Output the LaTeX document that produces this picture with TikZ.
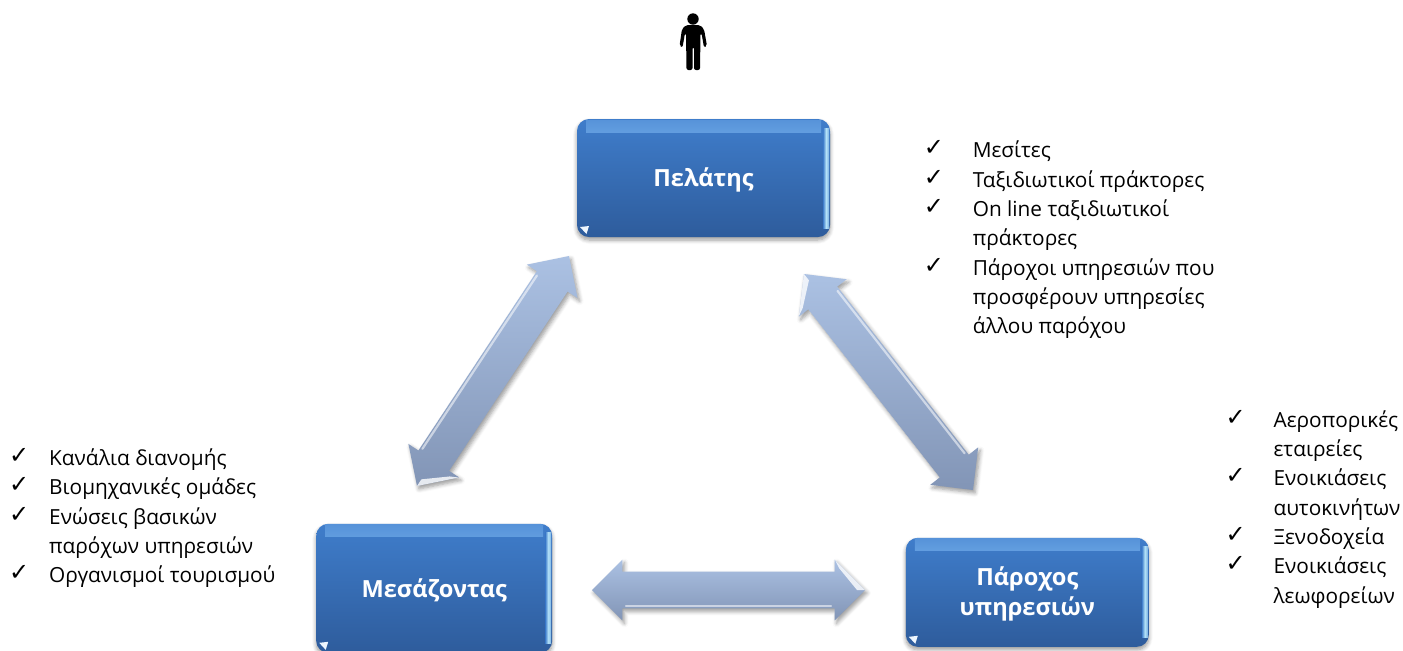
\documentclass[tikz,border=0pt]{standalone}
\usepackage{fontspec}
\setmainfont{Open Sans}
\newfontfamily\checkfont{DejaVu Sans}
\usetikzlibrary{positioning,calc,shapes.arrows,shadows.blur}

\definecolor{boxtop}{HTML}{3F7DCB}
\definecolor{boxbot}{HTML}{2E5C9C}
\definecolor{boxshine}{HTML}{8CC4F8}
\definecolor{boxedge}{HTML}{B4E2F8}
\definecolor{arrowtop}{HTML}{ABC1E3}
\definecolor{arrowbot}{HTML}{8295B6}

\newlength{\chkgap}
\newcommand{\chk}{\makebox[\chkgap][l]{\smash{\raisebox{1pt}{\checkfont\fontsize{12}{12}\selectfont ✓}}}}
\newcommand{\nochk}{\hspace*{\chkgap}}

\tikzset{
  boxnode/.style={rounded corners=6pt, top color=boxtop, bottom color=boxbot, text=white,
    font=\bfseries\fontsize{11.8}{15}\selectfont, align=center, inner sep=0pt,
    minimum width=#1, blur shadow={shadow xshift=0pt, shadow yshift=-1.5pt, shadow blur steps=6, shadow blur radius=2pt},
    path picture={
      \shade[sharp corners, top color=boxtop!70!boxshine, bottom color=boxtop, middle color=boxshine]
        ([shift={(9,1)}]path picture bounding box.north west) rectangle
        ([shift={(-9,13)}]path picture bounding box.north east);
      \shade[sharp corners, left color=boxtop, right color=boxtop!50!boxedge, middle color=boxedge]
        ([shift={(-7,9)}]path picture bounding box.north east) rectangle
        ([shift={(-1,-9)}]path picture bounding box.south east);
      \fill[sharp corners, white!85!boxshine] ([shift={(3,-10)}]path picture bounding box.south west) --
        ([shift={(12,-11)}]path picture bounding box.south west) --
        ([shift={(9.5,-3)}]path picture bounding box.south west) -- cycle;
    }},
  arrownode/.style={double arrow, double arrow head extend=6pt, text height=9pt, text depth=9pt, inner sep=0pt,
    top color=arrowtop, bottom color=arrowbot,
    blur shadow={shadow xshift=1pt, shadow yshift=-1.5pt, shadow blur steps=5, shadow blur radius=2pt}},
  checklist/.style={align=left, inner sep=0pt, font=\fontsize{10.4}{14.65}\selectfont,
    execute at begin node={\setlength{\chkgap}{#1}}}
}

% thick arrow between two named ends
\newcommand{\blockarrow}[3]{
  \path let \p1=($(#3)-(#2)$), \n1={atan2(\y1,\x1)}, \n2={veclen(\x1,\y1)} in
    node[arrownode, rotate=\n1, minimum height=\n2] (#1) at ($(#2)!.5!(#3)$) {};
  \draw[white, opacity=.55, line width=1.1pt, line cap=round]
    ($(#2)!17pt!(#3)!8pt!90:(#3)$) -- ($(#3)!17pt!(#2)!8pt!-90:(#2)$);
  \fill[white, opacity=.8] (#2) -- ($(#2)!15pt!(#3)!15pt!-90:(#3)$) -- ($(#2)!13pt!(#3)!11pt!-90:(#3)$) -- ($(#2)!4pt!(#3)$) -- cycle;
}

\begin{document}
\begin{tikzpicture}[x=0.5pt, y=-0.5pt]
  \useasboundingbox (0,0) rectangle (1403,650);

  % Define nodes
  \node[boxnode=126.5pt, minimum height=59pt] at (703.5,178) (client) {\rule{0pt}{11.2pt}Πελάτης};
  \node[boxnode=118pt, minimum height=64.5pt, below left=143pt and 12pt of client.south west, anchor=north east] (agent) {\rule{0pt}{11.2pt}Μεσάζοντας};
  \node[boxnode=121.5pt, minimum height=54.5pt, below right=150pt and 37.5pt of client.south east, anchor=north west] (provider) {\rule{0pt}{11.2pt}Πάροχος\\υπηρεσιών};

  \node[checklist=24.5pt, right=46.5pt of client, yshift=-31pt] (clientlist)
    {\chk Μεσίτες\\ \chk Ταξιδιωτικοί πράκτορες\\ \chk On line ταξιδιωτικοί\\ \nochk πράκτορες\\
     \chk Πάροχοι υπηρεσιών που\\ \nochk προσφέρουν υπηρεσίες\\ \nochk άλλου παρόχου};
  \node[checklist=20pt, left=20pt of agent, yshift=35pt] (agentlist)
    {\chk Κανάλια διανομής\\ \chk Βιομηχανικές ομάδες\\ \chk Ενώσεις βασικών\\ \nochk παρόχων υπηρεσιών\\
     \chk Οργανισμοί τουρισμού};
  \node[checklist=24pt, right=38pt of provider, yshift=41.5pt] (providerlist)
    {\chk Αεροπορικές\\ \nochk εταιρείες\\ \chk Ενοικιάσεις\\ \nochk αυτοκινήτων\\
     \chk Ξενοδοχεία\\ \chk Ενοικιάσεις\\ \nochk λεωφορείων};

  % Arrow ends
  \coordinate (agentup) at (417,486);
  \coordinate (clientdown) at (569,256);
  \coordinate (clientright) at (804,274);
  \coordinate (providerup) at (973,490);
  \coordinate (agentright) at (592,590);
  \coordinate (providerleft) at (865,590);

  % Connect the nodes
  \blockarrow{agentclient}{agentup}{clientdown}
  \blockarrow{clientprovider}{clientright}{providerup}
  \blockarrow{agentprovider}{providerleft}{agentright}

  % Person
  \fill (693,19) circle [radius=5.7];
  \fill[rounded corners=1pt] (679.5,46) -- (682,29) -- (686,25) -- (700,25) -- (704,29) -- (707,46) -- (704,47.5) -- (701.5,33)
    -- (700.5,33) -- (700,70) -- (694,70) -- (694,47) -- (692.5,47) -- (692.5,70) -- (686.5,70) -- (686,33) -- (685,33) -- (682.5,47.5) -- cycle;
\end{tikzpicture}
\end{document}
